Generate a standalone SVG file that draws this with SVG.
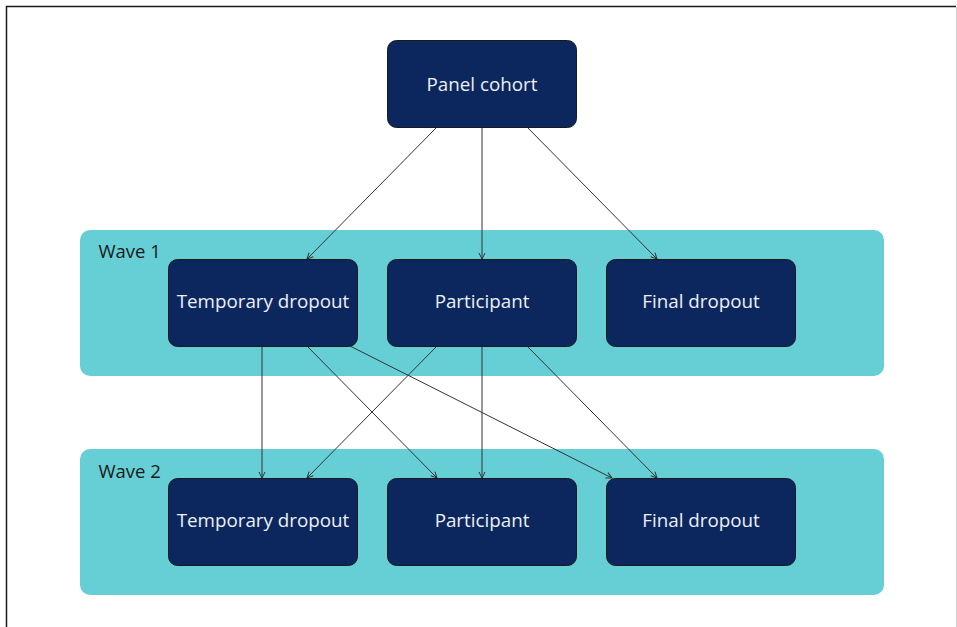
<svg xmlns="http://www.w3.org/2000/svg" width="957" height="627" viewBox="0 0 957 627">
  <style>
    .band { fill: #66cfd6; }
    .node rect { fill: #0b275e; stroke: #1a1a1a; stroke-width: 1; }
    .node text { fill: #eef0f5; font-family: "Open Sans", "Noto Sans", sans-serif; font-size: 18.8px; text-anchor: middle; dominant-baseline: central; }
    .label { fill: #1a1a1a; font-family: "Open Sans", "Noto Sans", sans-serif; font-size: 18.5px; }
    .edges line { stroke: #333333; stroke-width: 1; marker-end: url(#arrow); }
  </style>
  <defs>
    <marker id="arrow" viewBox="0 0 8 8" refX="7" refY="4" markerWidth="8" markerHeight="8" markerUnits="userSpaceOnUse" orient="auto">
      <path d="M1,1 L7,4 L1,7" fill="none" stroke="#333333" stroke-width="1"/>
    </marker>
  </defs>

  <rect x="0" y="0" width="957" height="627" fill="#ffffff"/>
  <!-- outer frame -->
  <path d="M6.5,640 V6.5 H956" fill="none" stroke="#1a1a1a" stroke-width="1.5"/>
  <line x1="956.5" y1="7" x2="956.5" y2="627" stroke="#d0d0d0" stroke-width="1"/>

  <!-- wave bands -->
  <g id="wave1">
    <rect class="band" x="80" y="230" width="804" height="146" rx="10"/>
    <text class="label" x="98.5" y="258">Wave 1</text>
  </g>
  <g id="wave2">
    <rect class="band" x="80" y="449" width="804" height="146" rx="10"/>
    <text class="label" x="98.5" y="478">Wave 2</text>
  </g>

  <!-- connectors -->
  <g class="edges" id="connectors">
    <line x1="437" y1="127" x2="307" y2="259"/>
    <line x1="482" y1="127" x2="482" y2="259"/>
    <line x1="527" y1="127" x2="657" y2="259"/>

    <line x1="262" y1="346" x2="262" y2="478"/>
    <line x1="307" y1="346" x2="437" y2="478"/>
    <line x1="350" y1="346" x2="612" y2="478"/>
    <line x1="437" y1="346" x2="307" y2="478"/>
    <line x1="482" y1="346" x2="482" y2="478"/>
    <line x1="527" y1="346" x2="657" y2="478"/>
  </g>

  <!-- nodes -->
  <g class="node" id="panel-cohort">
    <rect x="387.5" y="40.5" width="189" height="87" rx="9"/>
    <text x="482" y="84">Panel cohort</text>
  </g>

  <g class="node" id="w1-temporary-dropout">
    <rect x="168.5" y="259.5" width="189" height="87" rx="9"/>
    <text x="263" y="301">Temporary dropout</text>
  </g>
  <g class="node" id="w1-participant">
    <rect x="387.5" y="259.5" width="189" height="87" rx="9"/>
    <text x="482" y="301">Participant</text>
  </g>
  <g class="node" id="w1-final-dropout">
    <rect x="606.5" y="259.5" width="189" height="87" rx="9"/>
    <text x="701" y="301">Final dropout</text>
  </g>

  <g class="node" id="w2-temporary-dropout">
    <rect x="168.5" y="478.5" width="189" height="87" rx="9"/>
    <text x="263" y="520">Temporary dropout</text>
  </g>
  <g class="node" id="w2-participant">
    <rect x="387.5" y="478.5" width="189" height="87" rx="9"/>
    <text x="482" y="520">Participant</text>
  </g>
  <g class="node" id="w2-final-dropout">
    <rect x="606.5" y="478.5" width="189" height="87" rx="9"/>
    <text x="701" y="520">Final dropout</text>
  </g>
</svg>
